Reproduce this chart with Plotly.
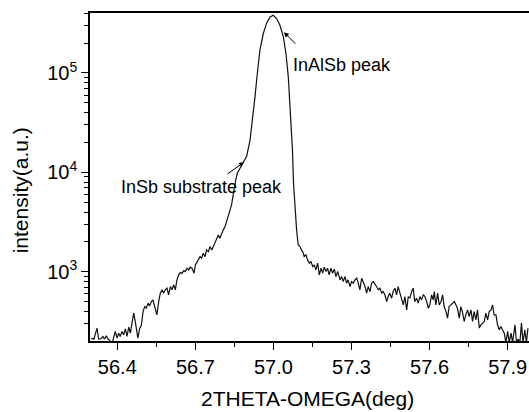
import plotly.graph_objects as go

# 2theta-omega scan (deg) and intensity (a.u.)
two_theta = [
    56.300, 56.310, 56.322, 56.328, 56.338, 56.345, 56.351, 56.358, 56.364, 56.371,
    56.380, 56.392, 56.399, 56.405, 56.411, 56.418, 56.424, 56.431, 56.437, 56.444,
    56.450, 56.456, 56.463, 56.469, 56.479, 56.486, 56.492, 56.499, 56.505, 56.511,
    56.518, 56.524, 56.531, 56.537, 56.544, 56.552, 56.559, 56.565, 56.572, 56.578,
    56.584, 56.591, 56.597, 56.604, 56.610, 56.617, 56.623, 56.629, 56.636, 56.642,
    56.649, 56.655, 56.661, 56.668, 56.674, 56.680, 56.687, 56.695, 56.700, 56.706,
    56.711, 56.718, 56.724, 56.730, 56.737, 56.743, 56.750, 56.756, 56.763, 56.769,
    56.775, 56.782, 56.788, 56.794, 56.801, 56.807, 56.814, 56.820, 56.826, 56.833,
    56.839, 56.843, 56.848, 56.855, 56.861, 56.871, 56.884, 56.897, 56.910, 56.920,
    56.929, 56.938, 56.948, 56.961, 56.974, 56.987, 56.999, 57.012, 57.025, 57.038,
    57.048, 57.057, 57.063, 57.069, 57.073, 57.077, 57.083, 57.089, 57.095,
    57.102, 57.108, 57.115, 57.118, 57.125, 57.131, 57.138, 57.144, 57.151, 57.157,
    57.163, 57.170, 57.176, 57.183, 57.189, 57.195, 57.202, 57.208, 57.214, 57.221,
    57.227, 57.234, 57.240, 57.247,
    57.256, 57.262, 57.268, 57.275, 57.281, 57.287, 57.294, 57.300, 57.307, 57.313,
    57.320, 57.326, 57.332, 57.339, 57.345, 57.352, 57.358, 57.364, 57.371, 57.377,
    57.384, 57.390, 57.396, 57.403, 57.409, 57.416, 57.422, 57.428, 57.435, 57.441,
    57.447, 57.454, 57.460, 57.467, 57.473, 57.479, 57.486, 57.492, 57.499, 57.505,
    57.512, 57.518, 57.524, 57.531, 57.537, 57.543, 57.550, 57.556, 57.563, 57.569,
    57.576,
    57.582, 57.589, 57.595, 57.601, 57.608, 57.614, 57.618, 57.624, 57.631, 57.637,
    57.644, 57.650, 57.656, 57.663, 57.669, 57.675, 57.682, 57.688, 57.695, 57.701,
    57.707, 57.714, 57.720, 57.726, 57.733, 57.739, 57.746, 57.752, 57.759, 57.765,
    57.771, 57.778, 57.784, 57.791, 57.797, 57.804, 57.810, 57.816, 57.823, 57.829,
    57.836, 57.842, 57.848, 57.855, 57.861, 57.868, 57.874, 57.880, 57.887, 57.893,
    57.900, 57.906, 57.913, 57.919, 57.928, 57.934, 57.940, 57.947, 57.953, 57.959,
    57.966, 57.972, 57.978,
]

intensity = [
    216, 211, 272, 211, 214, 224, 211, 228, 211, 205,
    190, 252, 216, 242, 224, 252, 233, 267, 224, 278,
    242, 305, 385, 317, 216, 272, 287, 399, 448, 432,
    485, 455, 503, 523, 432, 370, 503, 611, 660, 611,
    660, 686, 588, 712, 660, 741, 660, 831, 933, 984,
    970, 1030, 1007, 1089, 1047, 1115, 1089, 970, 1176, 1240,
    1320, 1424, 1373, 1541, 1424, 1663, 1599, 1795, 1663, 1795,
    1942, 2096, 2352, 2180, 2447, 2641, 2850, 3199, 3592, 4031,
    4707, 5495, 6658, 8388, 9795, 10990, 12810, 14500, 21150, 33570,
    57500, 98800, 169400, 249300, 318500, 365900, 380200, 352600, 302000, 230300,
    157000, 91400, 53300, 31120, 16790, 7829, 4193, 2641, 1867,
    1795, 1663, 1541, 1424, 1481, 1320, 1223, 1269, 1130, 1176,
    1047, 1223, 933, 1089, 970, 1115, 1007, 1089, 933, 1089,
    970, 1064, 897, 1007,
    831, 897, 799, 897, 770, 831, 712, 799, 770, 831,
    864, 770, 660, 864, 799, 712, 611, 712, 634, 770,
    799, 741, 712, 660, 686, 611, 634, 588, 503, 565,
    611, 544, 634, 686, 588, 712, 611, 523, 466, 565,
    415, 565, 544, 634, 686, 503, 544, 485, 565, 523,
    588,
    565, 503, 432, 466, 588, 523, 634, 466, 611, 466,
    503, 588, 448, 399, 343, 448, 466, 485, 503, 466,
    432, 343, 448, 399, 317, 370, 415, 356, 415, 317,
    399, 330, 415, 272, 294, 305, 317, 385, 330, 399,
    415, 466, 370, 370, 294, 262, 282, 262, 242, 195,
    252, 195, 242, 195, 294, 195, 211, 195, 305, 195,
    262, 195, 272,
]

x_tick_vals = [56.4, 56.7, 57.0, 57.3, 57.6, 57.9]
x_tick_text = ["56.4", "56.7", "57.0", "57.3", "57.6", "57.9"]
y_tick_vals = [1e3, 1e4, 1e5]
y_tick_text = ["10<sup>3</sup>", "10<sup>4</sup>", "10<sup>5</sup>"]
y_minor_vals = [m * d for d in (100, 1000, 10000, 100000) for m in range(2, 10)]

FONT = "Liberation Sans, Arial, sans-serif"

fig = go.Figure()
fig.add_trace(go.Scatter(
    x=two_theta, y=intensity, mode="lines",
    line=dict(color="#111111", width=1.2),
    showlegend=False, hoverinfo="skip",
))

fig.update_layout(
    width=529, height=412,
    margin=dict(l=90, r=0, t=13, b=71, autoexpand=False),
    paper_bgcolor="white", plot_bgcolor="white",
    font=dict(family=FONT, color="black"),
    showlegend=False,
)

fig.update_xaxes(
    range=[56.295, 57.982], automargin=False,
    tickmode="array", tickvals=x_tick_vals, ticktext=x_tick_text,
    ticks="outside", ticklen=7, tickwidth=1.3, tickcolor="black",
    minor=dict(ticks="outside", dtick=0.15, tick0=56.25, ticklen=4, tickwidth=1.3, tickcolor="black"),
    showline=True, linecolor="black", linewidth=1.6, mirror=True,
    showgrid=False, zeroline=False,
    tickfont=dict(size=20, family=FONT, color="black"),
)

fig.update_yaxes(
    type="log", range=[2.305, 5.603], automargin=False,
    tickmode="array", tickvals=y_tick_vals, ticktext=y_tick_text,
    ticks="outside", ticklen=7, tickwidth=1.3, tickcolor="black",
    minor=dict(ticks="outside", tickvals=y_minor_vals, ticklen=4, tickwidth=1.1, tickcolor="black"),
    showline=True, linecolor="black", linewidth=1.6, mirror=False,
    showgrid=False, zeroline=False,
    tickfont=dict(size=20, family=FONT, color="black"),
)

# axis titles
fig.add_annotation(xref="paper", yref="paper", x=0.495, y=-0.174,
                   xanchor="center", yanchor="middle",
                   text="2THETA-OMEGA(deg)", showarrow=False,
                   font=dict(size=21, family=FONT, color="black"))
fig.add_annotation(xref="paper", yref="paper", x=-0.159, y=0.46, textangle=-90,
                   xanchor="center", yanchor="middle",
                   text="intensity(a.u.)", showarrow=False,
                   font=dict(size=21, family=FONT, color="black"))

# peak labels
fig.add_annotation(x=57.265, y=5.078, text="InAlSb peak", showarrow=False,
                   font=dict(size=18, family=FONT, color="black"))
fig.add_annotation(x=56.725, y=3.850, text="InSb substrate peak", showarrow=False,
                   font=dict(size=18, family=FONT, color="black"))
# arrows
fig.add_annotation(x=57.040, y=5.410, ax=13, ay=13, text="", showarrow=True,
                   arrowhead=2, arrowsize=1, arrowwidth=1, arrowcolor="black")
fig.add_annotation(x=56.887, y=4.104, ax=-18, ay=13, text="", showarrow=True,
                   arrowhead=2, arrowsize=1, arrowwidth=1, arrowcolor="black")

fig.write_html("out.html", config={"displayModeBar": False},
               post_script="document.body.style.margin='0px';document.body.style.overflow='hidden';")
